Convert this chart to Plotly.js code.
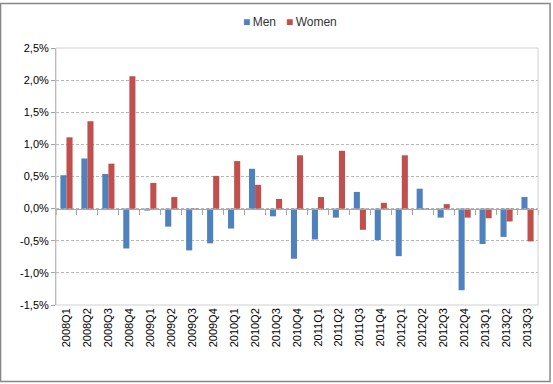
<!DOCTYPE html>
<html>
<head>
<meta charset="utf-8">
<script src="https://cdn.plot.ly/plotly-3.0.1.min.js"></script>
<style>
html,body{margin:0;padding:0;background:#fff;}
#chart{width:553px;height:384px;}
</style>
</head>
<body>
<div id="chart"></div>
<script>
var quarters = ["2008Q1","2008Q2","2008Q3","2008Q4","2009Q1","2009Q2","2009Q3","2009Q4",
  "2010Q1","2010Q2","2010Q3","2010Q4","2011Q1","2011Q2","2011Q3","2011Q4",
  "2012Q1","2012Q2","2012Q3","2012Q4","2013Q1","2013Q2","2013Q3"];
var men = [0.52,0.78,0.54,-0.62,-0.03,-0.28,-0.65,-0.54,
  -0.31,0.62,-0.12,-0.78,-0.48,-0.14,0.26,-0.49,
  -0.74,0.31,-0.14,-1.27,-0.55,-0.44,0.18];
var women = [1.11,1.36,0.70,2.06,0.40,0.18,-0.02,0.51,
  0.74,0.37,0.15,0.83,0.18,0.90,-0.33,0.09,
  0.83,-0.01,0.07,-0.14,-0.15,-0.20,-0.51];
var yTickVals = [-1.5,-1.0,-0.5,0,0.5,1.0,1.5,2.0,2.5];
var yTickText = ["-1,5%","-1,0%","-0,5%","0,0%","0,5%","1,0%","1,5%","2,0%","2,5%"];
var seriesNames = ["Men","Women"];
var seriesColors = ["#4F81BD","#C0504D"];

var traces = [
  {type:"bar", name:seriesNames[0], x:quarters, y:men, marker:{color:seriesColors[0]}},
  {type:"bar", name:seriesNames[1], x:quarters, y:women, marker:{color:seriesColors[1]}},
  {type:"scatter", mode:"markers", x:quarters, y:quarters.map(function(){return null;}),
   xaxis:"x2", yaxis:"y", showlegend:false, hoverinfo:"skip", marker:{opacity:0}}
];

var legendText = seriesNames.map(function(n,i){
  return '<span style="color:'+seriesColors[i]+'">■</span>\u2009'+n;
}).join('\u00a0\u00a0\u00a0');

var layout = {
  width:553, height:384,
  margin:{l:56, r:15, t:48, b:79},
  paper_bgcolor:"#fff", plot_bgcolor:"#fff",
  font:{family:"Liberation Sans, Arial, sans-serif", size:11, color:"#000"},
  barmode:"group", bargap:0.42, bargroupgap:0,
  showlegend:false,
  annotations:[
    {xref:"paper", yref:"paper", x:0.485, y:1.1, xanchor:"center", yanchor:"middle",
     showarrow:false, text:legendText, font:{size:12, color:"#333"}}
  ],
  xaxis:{type:"category", categoryarray:quarters, range:[-0.5,22.5],
    tickangle:-90, ticks:"", showgrid:false, showline:false, zeroline:false,
    tickfont:{size:11, color:"#000"}},
  xaxis2:{type:"category", categoryarray:quarters, range:[-0.5,22.5], overlaying:"x",
    anchor:"free", position:0.375, showline:true, linecolor:"#a6a6a6", linewidth:1,
    ticks:"outside", tickson:"boundaries", ticklen:5, tickcolor:"#a6a6a6",
    showticklabels:false, showgrid:false, zeroline:false},
  yaxis:{range:[-1.5,2.5], tickvals:yTickVals, ticktext:yTickText,
    showgrid:true, gridcolor:"#b8b8b8", griddash:"3px,2px", gridwidth:1,
    zeroline:false, showline:true, linecolor:"#a6a6a6", linewidth:1,
    ticks:"outside", ticklen:4, tickcolor:"#a6a6a6",
    tickfont:{size:11, color:"#000"}},
  shapes:[
    {type:"rect", xref:"paper", yref:"paper", x0:0, x1:1, y0:0, y1:1,
     line:{color:"#d0d0d0", width:1}, layer:"above"},
    {type:"rect", xref:"paper", yref:"paper", x0:-0.115, x1:1.025, y0:-0.298, y1:1.173,
     line:{color:"#888", width:1.5}, layer:"above"}
  ]
};

Plotly.newPlot("chart", traces, layout, {displayModeBar:false, staticPlot:true});
</script>
</body>
</html>
